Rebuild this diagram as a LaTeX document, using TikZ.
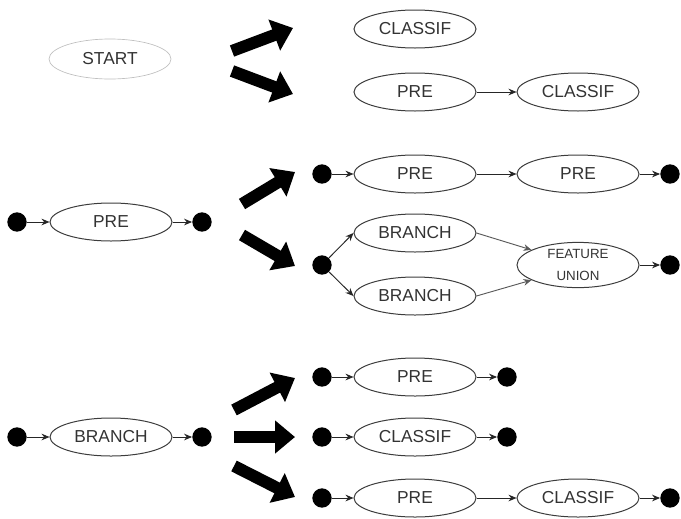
\documentclass[tikz,border=0pt]{standalone}
\usepackage{fontspec}
\setmainfont{Liberation Sans}
\usetikzlibrary{shapes.geometric,arrows.meta,positioning}
\definecolor{textgray}{HTML}{333333}
\definecolor{linegray}{HTML}{3C3C3C}

\begin{document}
\begin{tikzpicture}[x=0.75pt,y=-0.75pt,
  paso/.style={ellipse, draw=linegray, line width=0.75pt, minimum width=91.5pt, minimum height=28.5pt, inner sep=0pt, text=textgray, font=\fontsize{13}{15}\selectfont},
  punto/.style={circle, fill=black, minimum size=14.5pt, inner sep=0pt},
  flecha/.style={line width=9pt, -{Triangle[length=15pt,width=24pt]}},
  enlace/.style={draw=black!85, line width=0.7pt, -{Stealth[length=6pt,width=5pt]}}]
  \useasboundingbox (0,0) rectangle (681,518);

  % FILA 1
  \node [paso, draw=black!25, line width=0.5pt, minimum height=30pt] (start) at (110,59) {START};
  \draw[flecha] (232,51) -- (293,28);
  \draw[flecha] (232,71) -- (293,94);
  \node [paso] (classifa) at (415,29) {CLASSIF};
  \node [paso] (prea) at (415,92) {PRE};
  \node [paso, right=122.25pt of prea.center, anchor=center] (classifb) {CLASSIF};
  \draw[enlace] (prea) -- (classifb);

  % FILA 2
  \node [punto] (ina) at (17,222) {};
  \node [paso] (pre) at (111,222) {PRE};
  \node [punto] (outa) at (202,222) {};
  \draw[enlace] (ina) -- (pre);
  \draw[enlace] (pre) -- (outa);
  \draw[flecha] (242,204) -- (295,172);
  \draw[flecha] (242,235) -- (295,266);

  \node [punto] (inb) at (322,174) {};
  \node [paso] (preb) at (415,174) {PRE};
  \node [paso] (prec) at (578,174) {PRE};
  \node [punto] (outb) at (670,174) {};
  \draw[enlace] (inb) -- (preb);
  \draw[enlace] (preb) -- (prec);
  \draw[enlace] (prec) -- (outb);

  \node [punto] (inc) at (322,265) {};
  \node [paso] (brancha) at (415,233) {BRANCH};
  \node [paso] (branchb) at (415,296) {BRANCH};
  \node [paso, minimum height=33pt, align=center, font=\fontsize{10}{17}\selectfont] (union) at (578,265) {FEATURE\\UNION};
  \node [punto] (outc) at (670,265) {};
  \draw[enlace] (inc) -- (brancha.west);
  \draw[enlace] (inc) -- (branchb.west);
  \draw[enlace, draw=black!65] (brancha.east) -- (union.162);
  \draw[enlace, draw=black!65] (branchb.east) -- (union.198);
  \draw[enlace] (union) -- (outc);

  % FILA 3
  \node [punto] (ind) at (17,437) {};
  \node [paso] (branch) at (111,437) {BRANCH};
  \node [punto] (outd) at (202,437) {};
  \draw[enlace] (ind) -- (branch);
  \draw[enlace] (branch) -- (outd);
  \draw[flecha] (234,410) -- (295,378);
  \draw[flecha] (234,437) -- (295,437);
  \draw[flecha] (234,466) -- (295,497);

  \node [punto] (ine) at (322,377) {};
  \node [paso] (pred) at (415,377) {PRE};
  \node [punto] (oute) at (507,377) {};
  \draw[enlace] (ine) -- (pred);
  \draw[enlace] (pred) -- (oute);

  \node [punto] (inf) at (322,437) {};
  \node [paso] (classifc) at (415,437) {CLASSIF};
  \node [punto] (outf) at (507,437) {};
  \draw[enlace] (inf) -- (classifc);
  \draw[enlace] (classifc) -- (outf);

  \node [punto] (ing) at (322,498) {};
  \node [paso] (pree) at (415,498) {PRE};
  \node [paso] (classifd) at (578,498) {CLASSIF};
  \node [punto] (outg) at (670,498) {};
  \draw[enlace] (ing) -- (pree);
  \draw[enlace] (pree) -- (classifd);
  \draw[enlace] (classifd) -- (outg);
\end{tikzpicture}
\end{document}
